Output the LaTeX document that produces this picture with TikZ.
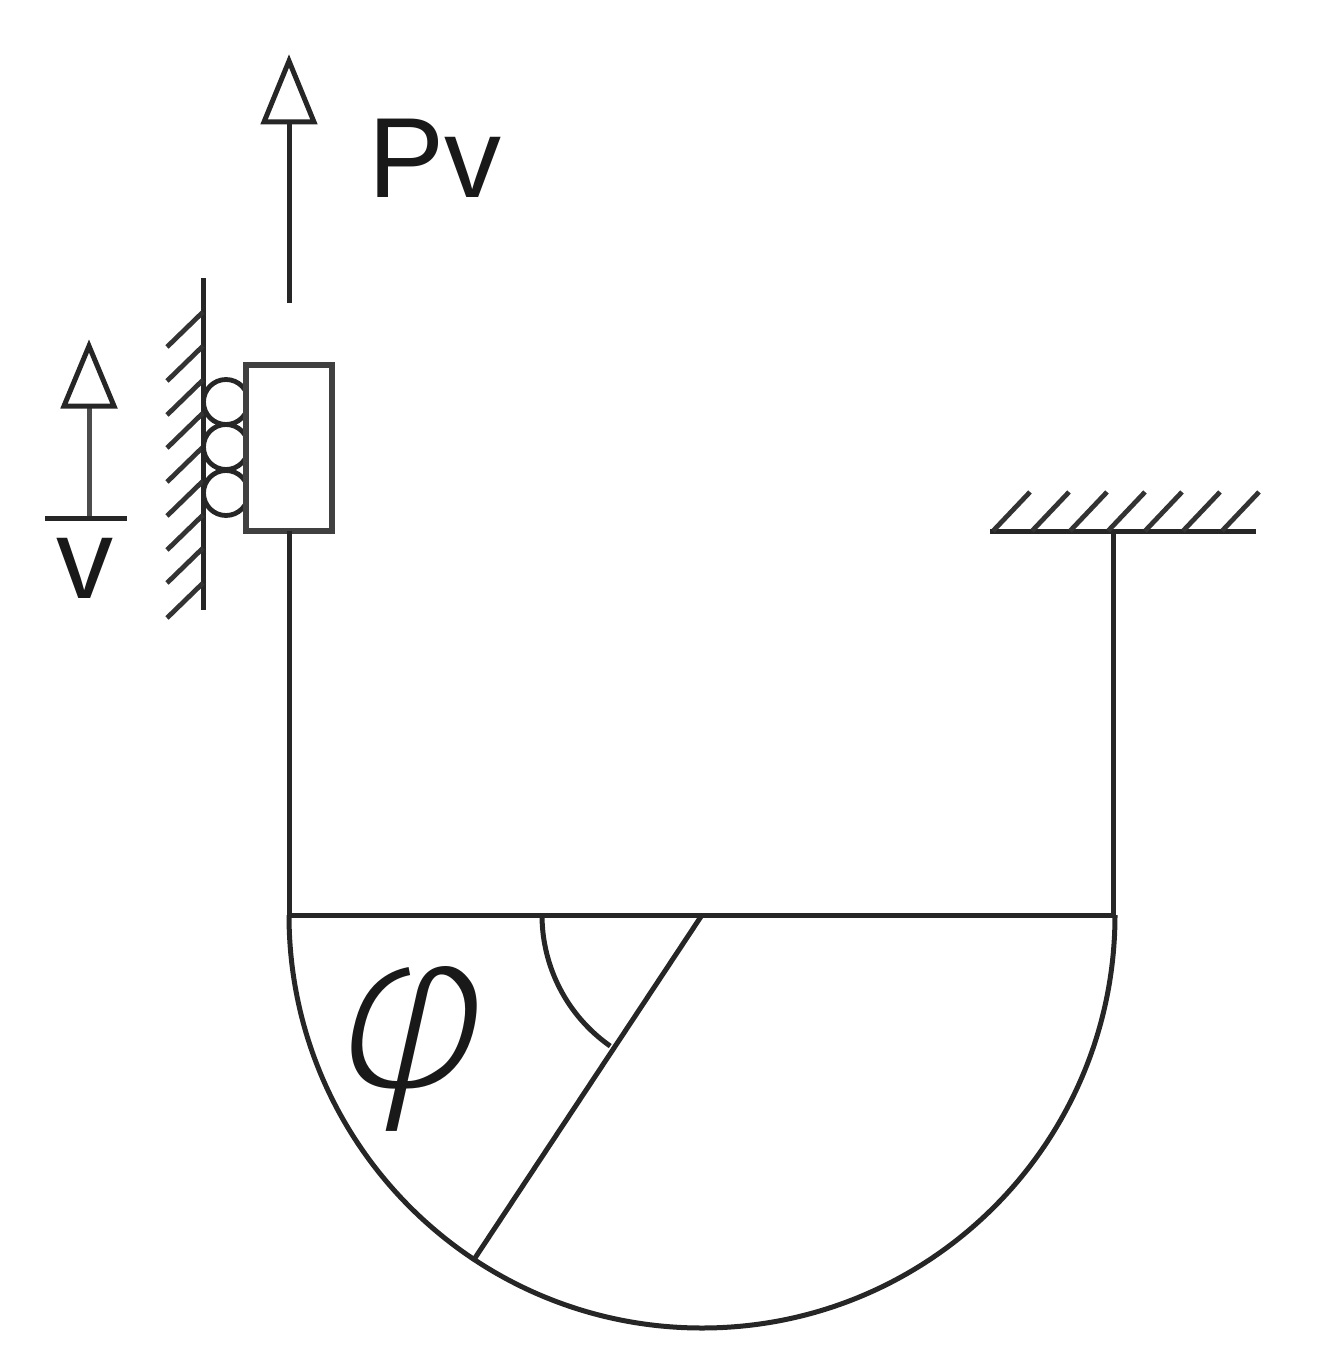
\documentclass[tikz,border=0pt]{standalone}
\usepackage{fontspec}
\usepackage{graphicx}
\setmainfont{Liberation Sans}
\newfontfamily\phifont[FakeSlant=0.2]{DejaVu Sans ExtraLight}
\tikzset{
  ln/.style={draw=black!85,line width=2.5pt},
  thin ln/.style={draw=black!80,line width=2.4pt},
  head/.style={draw=black!85,line width=2.5pt,fill=white,line join=miter},
  lab/.style={inner sep=0pt,text=black!90,font=\fontsize{57}{57}\selectfont}
}
\begin{document}
\begin{tikzpicture}[x=0.5pt,y=-0.5pt]
\useasboundingbox (0,0) rectangle (1326,1364);
% wall
\coordinate (wt) at (203,278);
\coordinate (wb) at (203,610);
\draw[ln] (wt) -- (wb);
\foreach \y in {312,346,380,413,447,481,515,548,583}
  \draw[thin ln] (203,\y) -- ++(-36,35);
% rollers
\foreach \n/\y in {r1/402,r2/447,r3/493}
  \node[circle,draw=black!85,line width=2.4pt,fill=white,minimum size=22.5pt,inner sep=0pt,outer sep=0pt] (\n) at (226,\y) {};
% block
\node[draw=black!75,line width=3pt,fill=white,minimum width=43pt,minimum height=83pt,inner sep=0pt,outer sep=0pt,anchor=north west] (block) at (246,365) {};
% ground
\coordinate (gl) at (990,531);
\coordinate (gr) at (1256,531);
\draw[ln] (gl) -- (gr);
\foreach \x in {993,1032,1070,1108,1145,1183,1222}
  \draw[thin ln] (\x,531) -- ++(37,-39);
% frame
\coordinate (cl) at (289,915);
\coordinate (cr) at (1115,915);
\coordinate (c) at (702,915);
\coordinate (rim) at (475,1258);
\coordinate (a1) at (542,915);
\coordinate (hang) at (1113,531);
\coordinate (hangb) at (1113,915);
\draw[ln] (block.south) -- (cl);
\draw[ln] (hang) -- (hangb);
\draw[ln] (cl) -- (cr);
\draw[ln] (cl) arc[start angle=180,end angle=360,x radius=413,y radius=-413];
\draw[ln] (c) -- (rim);
\draw[ln] (a1) arc[start angle=180,end angle=235,x radius=160,y radius=-160];
% Pv arrow
\coordinate (p0) at (289,303);
\coordinate (p1) at (289,122);
\draw[ln] (p0) -- (p1);
\draw[head] (289,61) -- (314,122) -- (264,122) -- cycle;
\node[lab,anchor=base west] (pv) at (368,198) {Pv};
% v arrow
\coordinate (v0) at (89,518);
\coordinate (v1) at (89,406);
\coordinate (bl) at (45,518);
\coordinate (br) at (127,518);
\draw[ln,draw=black!70] (v0) -- (v1);
\draw[ln] (bl) -- (br);
\draw[head] (89,346) -- (114,406) -- (64,406) -- cycle;
\node[lab,anchor=base] (v) at (85,598) {v};
% phi
\node[inner sep=0pt,text=black!90] (phi) at (401,1049) {\scalebox{1.12}[1]{\phifont\fontsize{108}{108}\selectfont φ}};
\end{tikzpicture}
\end{document}
